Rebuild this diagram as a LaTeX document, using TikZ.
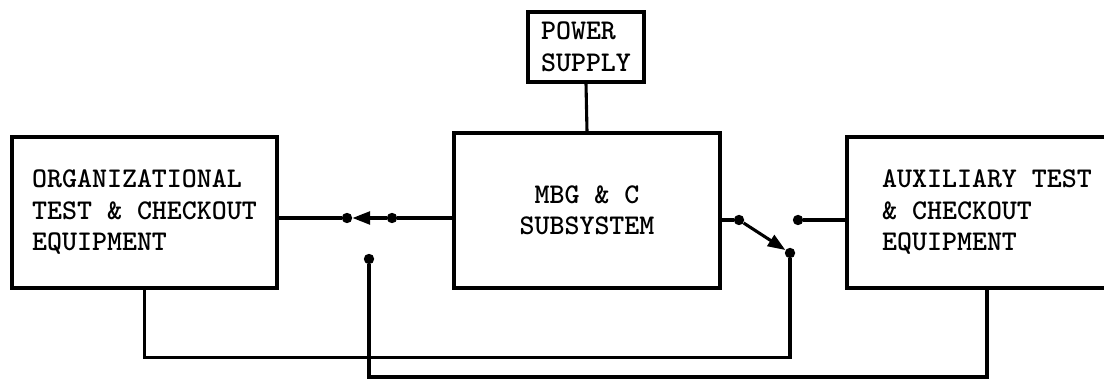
\documentclass[tikz,border=0pt]{standalone}
\usepackage{tikz}
\usetikzlibrary{arrows.meta}

\tikzset{
    block/.style={draw, line width=2.2pt, inner sep=0pt, align=left,
        font=\ttfamily\bfseries\fontsize{20.3}{22.4}\selectfont},
    contact/.style={circle, fill, inner sep=0pt, minimum size=0.26cm},
    wire/.style={line width=2.2pt},
    arm/.style={line width=2.2pt, -{Triangle[length=0.44cm,width=0.32cm]}}
}

\begin{document}
\begin{tikzpicture}[x=0.025cm, y=-0.025cm]
        \useasboundingbox (0,0) rectangle (1104,379);
        \clip (0,0) rectangle (1104,379);

        % Blocks
        \node[block, minimum width=2.9cm, minimum height=1.75cm] (ps) at (586,47) {POWER\\SUPPLY};
        \node[block, minimum width=6.625cm, minimum height=3.775cm] (otce) at (144.5,212.5)
            {ORGANIZATIONAL\\TEST \& CHECKOUT\\EQUIPMENT};
        \node[block, minimum width=6.65cm, minimum height=3.875cm, align=center] (mbgc) at (587,210.5)
            {MBG \& C\\SUBSYSTEM};
        \node[block, minimum width=7cm, minimum height=3.775cm] (atce) at (987,212.5)
            {AUXILIARY TEST\\\& CHECKOUT\\EQUIPMENT};

        % Switch contacts
        \node[contact] (swla) at (347,218) {};
        \node[contact] (swlb) at (392,218) {};
        \node[contact] (swlc) at (369,259) {};
        \node[contact] (swra) at (739,220) {};
        \node[contact] (swrb) at (790,253) {};
        \node[contact] (swrc) at (798,220) {};

        % Power feed
        \draw[wire] (ps.south) -- (mbgc.north);

        % Left switch
        \draw[wire] (otce.east |- swla) -- (swla);
        \draw[arm] (swlb) -- (swla);
        \draw[wire] (swlb) -- (swlb -| mbgc.west);

        % Right switch
        \draw[wire] (mbgc.east |- swra) -- (swra);
        \draw[arm] (swra) -- (swrb);
        \draw[wire] (swrc) -- (swrc -| atce.west);

        % Return lines
        \draw[wire] (otce.south) -- ++(0,68) -| (swrb);
        \draw[wire] (swlc) -- ++(0,118) -| (atce.south);
    \end{tikzpicture}
\end{document}
